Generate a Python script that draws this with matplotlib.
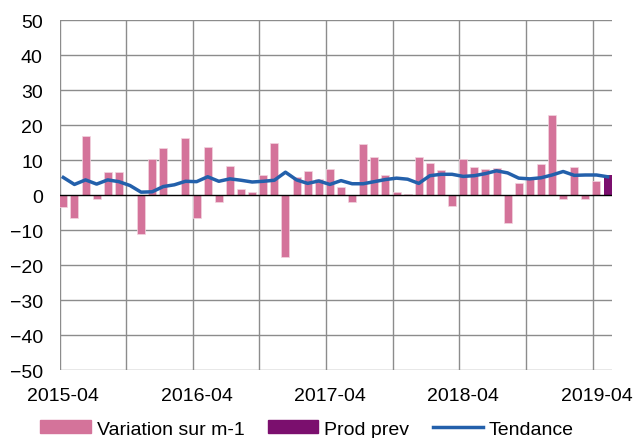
import matplotlib.pyplot as plt
from matplotlib.patches import Patch
from matplotlib.lines import Line2D
import numpy as np

plt.rcParams['font.family'] = ['Liberation Sans', 'DejaVu Sans']

# monthly variation (%) 2015-04 .. 2019-04, last month is the forecast
variation = [-3.3, -6.6, 17.0, -1.0, 6.6, 6.7, 0.2, -11.0, 10.3, 13.5,
             0.2, 16.4, -6.4, 13.8, -1.8, 8.3, 1.7, 0.9, 5.8, 15.0,
             -17.5, 5.2, 7.0, 4.6, 7.4, 2.3, -2.0, 14.6, 10.9, 5.7,
             1.0, 0.4, 11.0, 9.2, 7.1, -3.0, 10.4, 8.0, 7.5, 7.8,
             -7.8, 3.4, 5.0, 9.0, 22.9, -1.2, 8.1, -1.0, 4.0]
prod_prev = 5.8
tendance = [5.1, 3.1, 4.4, 3.2, 4.4, 3.9, 2.8, 0.9, 1.0, 2.5,
            3.0, 4.0, 3.9, 5.3, 4.0, 4.7, 4.3, 3.8, 4.0, 4.3,
            6.6, 4.4, 3.4, 4.1, 3.1, 4.2, 3.3, 3.3, 3.9, 4.5,
            4.9, 4.6, 3.4, 5.6, 6.0, 6.0, 5.4, 5.6, 6.2, 7.0,
            6.4, 4.9, 4.7, 5.0, 5.8, 6.8, 5.7, 5.8, 5.8, 5.3]
tick_labels = ['2015-04', '2016-04', '2017-04', '2018-04', '2019-04']

pink = '#D4739A'
purple = '#7B0F6E'
blue = '#2360AB'
grey = '#8C8C8C'

fig = plt.figure(figsize=(6.36, 4.39), dpi=100)
ax = fig.add_axes([0.0936, 0.1542, 0.868, 0.7973])

x = np.arange(len(variation))
ax.bar(x, variation, width=0.72, color=pink, edgecolor='#F2D5E0', linewidth=0.5, zorder=2)
ax.bar([len(variation)], [prod_prev], width=0.72, color=purple, zorder=2)
ax.plot(np.arange(len(tendance)), tendance, color=blue, linewidth=2.5, zorder=3)

ax.set_ylim(-50, 50)
ax.set_yticks(np.arange(-50, 51, 10))
ax.set_xlim(-0.34, 49.36)
for k in range(9):
    ax.axvline(6 * k - 0.34, color=grey, linewidth=1, zorder=1)
for v in range(-50, 51, 10):
    if v != 0:
        ax.axhline(v, color=grey, linewidth=1, zorder=1)
ax.axhline(0, color='black', linewidth=1, zorder=2.5)

ax.set_xticks([0, 12, 24, 36, 48])
ax.set_xticklabels(tick_labels)
for s in ax.spines.values():
    s.set_visible(False)
ax.tick_params(length=0, labelsize=14, colors='black')
ax.tick_params(axis='x', pad=12)
ax.tick_params(axis='y', pad=12)

handles = [Patch(color=pink), Patch(color=purple), Line2D([], [], color=blue, linewidth=2.5)]
fig.legend(handles, ['Variation sur m-1', 'Prod prev', 'Tendance'], loc='center',
           bbox_to_anchor=(0.483, 0.0205), ncol=3, frameon=False, fontsize=14,
           handlelength=2.6, handleheight=0.6, handletextpad=0.3, columnspacing=1.2,
           borderpad=0, borderaxespad=0)

fig.savefig('out.png', dpi=100)
